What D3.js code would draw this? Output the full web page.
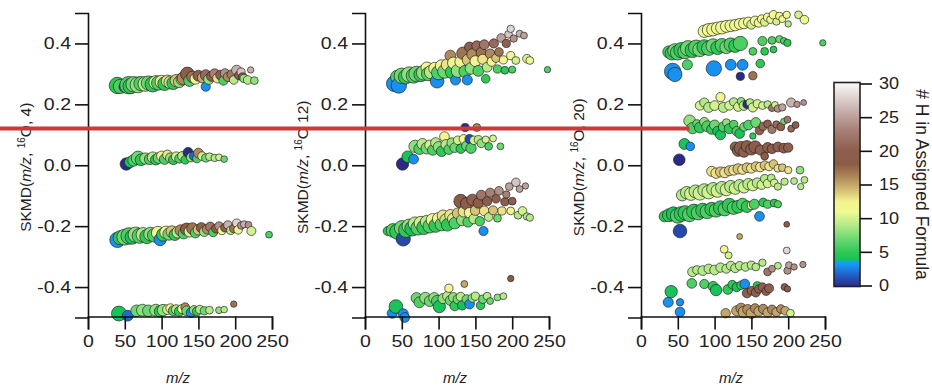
<!DOCTYPE html>
<html>
<head>
<meta charset="utf-8">
<script src="https://cdn.jsdelivr.net/npm/d3@7"></script>
<style>
  html, body { margin: 0; padding: 0; background: #fff; }
  svg { display: block; font-family: "Liberation Sans", Arial, Helvetica, sans-serif; }
</style>
</head>
<body>
<svg id="chart" width="932" height="388"></svg>
<script>
// Each ion: [m/z, SKMD, number of H in the assigned formula, relative abundance]
const ionsO4 = [
  [40,0.262,5,80],[44,0.259,6,60],[50,0.258,1,40],[55,0.263,6,90],[58,0.260,5,70],[62,0.266,7,70],
  [68,0.264,8,75],[72,0.268,6,60],[78,0.267,9,65],[82,0.270,7,60],[88,0.266,5,70],[92,0.272,10,55],
  [96,0.270,6,60],[100,0.274,12,50],[104,0.268,5,55],[108,0.276,13,45],[112,0.272,9,50],[116,0.270,5,50],
  [120,0.278,14,45],[124,0.274,8,40],[128,0.283,14,45],[130,0.286,16,50],[135,0.300,19,55],[138,0.278,6,40],
  [142,0.290,17,40],[146,0.284,12,35],[150,0.294,20,35],[156,0.288,15,35],[160,0.258,3,25],[160,0.296,21,35],
  [164,0.282,8,30],[168,0.292,18,30],[172,0.300,23,30],[176,0.286,13,28],[180,0.296,20,28],[184,0.278,6,25],
  [186,0.302,24,25],[190,0.290,16,25],[195,0.298,22,25],[198,0.280,9,22],[202,0.312,26,30],[205,0.295,19,22],
  [208,0.306,27,20],[210,0.290,18,20],[212,0.285,8,20],[217,0.280,9,22],[221,0.313,26,12],[226,0.278,8,18],

  [52,0.004,0,45],[57,0.010,4,35],[62,0.016,6,40],[68,0.024,7,55],[72,0.018,5,40],[78,0.022,8,38],
  [84,0.020,6,35],[88,0.026,9,35],[92,0.018,5,32],[96,0.024,7,35],[100,0.030,11,30],[104,0.020,6,32],
  [108,0.034,13,28],[112,0.024,8,30],[116,0.018,5,28],[120,0.028,10,28],[124,0.022,6,25],[128,0.030,9,25],
  [132,0.018,5,22],[136,0.042,0,30],[140,0.026,8,25],[144,0.030,2,25],[148,0.022,6,22],[150,0.040,16,28],
  [155,0.030,10,22],[160,0.024,7,20],[165,0.028,9,18],[172,0.024,9,16],[178,0.026,10,14],[185,0.020,7,13],

  [40,-0.245,3,70],[44,-0.238,5,60],[50,-0.236,7,75],[56,-0.232,6,80],[60,-0.236,4,60],[65,-0.228,8,70],
  [70,-0.232,6,65],[75,-0.228,9,60],[80,-0.234,5,60],[85,-0.226,8,55],[90,-0.230,6,55],[95,-0.222,11,50],
  [98,-0.244,3,45],[102,-0.228,5,50],[106,-0.220,12,45],[110,-0.226,7,45],[114,-0.218,14,40],[118,-0.228,5,40],
  [122,-0.220,9,40],[126,-0.214,16,38],[130,-0.224,6,35],[134,-0.210,18,45],[138,-0.218,10,35],[142,-0.208,17,40],
  [146,-0.222,6,30],[150,-0.212,14,32],[154,-0.205,20,30],[158,-0.218,8,28],[162,-0.210,16,28],[166,-0.202,22,26],
  [170,-0.220,6,24],[174,-0.208,18,24],[178,-0.200,24,22],[182,-0.214,12,22],[186,-0.205,20,22],[190,-0.196,26,20],
  [194,-0.214,9,20],[198,-0.208,17,20],[202,-0.190,28,20],[204,-0.212,12,22],[208,-0.198,24,16],[212,-0.194,26,15],
  [218,-0.196,24,14],[222,-0.216,10,24],[246,-0.228,6,14],

  [42,-0.487,4,65],[54,-0.494,2,35],[66,-0.478,7,40],[74,-0.476,8,42],[82,-0.478,7,40],[92,-0.476,8,42],
  [98,-0.480,5,40],[102,-0.476,8,40],[108,-0.474,10,28],[112,-0.470,12,25],[116,-0.478,6,30],[120,-0.474,9,28],
  [124,-0.480,5,28],[128,-0.472,11,25],[132,-0.466,16,22],[134,-0.478,7,28],[140,-0.484,3,28],[144,-0.476,8,25],
  [148,-0.480,5,24],[152,-0.474,9,22],[158,-0.478,7,20],[165,-0.476,9,18],[178,-0.476,8,14],[185,-0.474,9,13],
  [198,-0.456,17,12]
];

const ionsO12 = [
  [40,0.268,3,75],[46,0.262,3,70],[44,0.290,6,55],[50,0.294,7,70],[55,0.290,5,60],[60,0.298,8,70],
  [66,0.294,6,65],[70,0.300,7,70],[76,0.298,5,60],[80,0.304,8,65],[84,0.320,11,40],[86,0.300,6,55],
  [90,0.306,9,55],[95,0.318,12,45],[98,0.276,3,55],[100,0.304,6,60],[104,0.326,12,45],[108,0.308,7,55],
  [112,0.330,13,45],[116,0.360,16,35],[118,0.306,5,50],[120,0.336,11,40],[123,0.280,3,30],[126,0.310,8,50],
  [130,0.340,12,40],[133,0.368,17,45],[136,0.308,6,45],[139,0.280,3,30],[140,0.346,14,40],[142,0.388,20,30],
  [144,0.318,8,40],[146,0.364,16,38],[150,0.342,12,35],[152,0.392,21,30],[154,0.310,6,35],[158,0.370,17,32],
  [160,0.348,13,30],[162,0.396,22,28],[164,0.284,5,22],[166,0.322,9,28],[170,0.366,16,28],[172,0.340,12,25],
  [175,0.400,21,25],[178,0.352,14,22],[180,0.316,6,20],[182,0.372,17,22],[185,0.418,25,22],[188,0.346,12,20],
  [190,0.312,5,18],[192,0.400,20,20],[195,0.430,27,18],[198,0.360,12,20],[198,0.448,28,16],[200,0.314,6,15],
  [202,0.416,24,16],[205,0.344,10,18],[210,0.432,26,14],[216,0.426,25,14],[220,0.350,10,22],[224,0.344,11,18],
  [248,0.314,6,12],

  [51,0.004,0,45],[58,0.028,4,40],[66,0.020,3,28],[68,0.062,8,45],[74,0.054,6,38],[78,0.070,9,35],
  [84,0.056,7,40],[88,0.066,10,30],[92,0.050,6,32],[96,0.074,9,30],[100,0.060,8,35],[104,0.046,5,32],
  [108,0.094,12,28],[110,0.068,9,30],[114,0.052,6,30],[118,0.074,8,28],[122,0.058,7,28],[126,0.082,10,22],
  [130,0.054,5,25],[134,0.086,11,24],[136,0.124,0,20],[138,0.064,7,28],[142,0.086,1,25],[144,0.056,6,32],
  [148,0.082,10,22],[152,0.124,16,18],[154,0.084,9,20],[158,0.072,8,22],[164,0.084,10,16],[168,0.062,6,18],
  [174,0.088,10,14],[184,0.062,7,14],

  [31,-0.216,5,25],[38,-0.214,6,55],[44,-0.218,5,70],[50,-0.206,7,65],[52,-0.242,1,60],[56,-0.212,5,70],
  [60,-0.200,8,60],[64,-0.208,4,65],[68,-0.192,9,55],[72,-0.206,6,60],[76,-0.190,10,55],[80,-0.204,5,60],
  [84,-0.186,9,50],[88,-0.200,6,55],[92,-0.180,11,50],[96,-0.198,5,55],[100,-0.176,12,45],[104,-0.194,6,50],
  [106,-0.166,13,40],[110,-0.180,9,45],[112,-0.196,5,45],[116,-0.164,13,38],[120,-0.176,10,40],[122,-0.190,6,40],
  [126,-0.158,14,35],[130,-0.118,18,55],[132,-0.180,8,38],[134,-0.152,13,35],[138,-0.126,19,45],[140,-0.186,6,32],
  [142,-0.156,12,32],[146,-0.114,20,40],[148,-0.176,9,30],[150,-0.148,14,30],[154,-0.124,18,32],[156,-0.184,6,26],
  [158,-0.098,22,28],[161,-0.216,3,25],[162,-0.150,13,28],[166,-0.118,19,26],[168,-0.170,9,22],[170,-0.090,23,24],
  [174,-0.148,14,24],[178,-0.110,20,22],[180,-0.174,7,18],[182,-0.084,24,22],[186,-0.150,13,20],[190,-0.120,19,20],
  [192,-0.096,23,16],[196,-0.070,25,18],[198,-0.150,12,18],[200,-0.118,20,18],[205,-0.056,27,22],[208,-0.164,9,18],
  [210,-0.078,25,14],[214,-0.150,10,22],[218,-0.068,25,12],[220,-0.168,9,16],[224,-0.172,9,16],

  [37,-0.486,3,30],[42,-0.464,4,55],[52,-0.488,3,30],[54,-0.500,3,28],[70,-0.436,7,35],[74,-0.450,6,35],
  [82,-0.436,8,38],[88,-0.446,7,35],[94,-0.436,8,35],[98,-0.446,6,38],[101,-0.464,4,45],[106,-0.438,8,30],
  [112,-0.430,9,28],[114,-0.404,12,20],[116,-0.444,7,30],[120,-0.434,8,28],[122,-0.462,5,28],[126,-0.440,7,26],
  [130,-0.432,9,24],[132,-0.460,4,26],[135,-0.390,15,14],[138,-0.440,7,24],[142,-0.456,3,28],[146,-0.436,8,22],
  [150,-0.430,9,20],[157,-0.460,5,22],[160,-0.440,7,20],[166,-0.430,9,18],[170,-0.446,7,14],[180,-0.434,8,14],
  [188,-0.430,9,14],[198,-0.372,18,12]
];

const ionsO20 = [
  [86,0.440,11,45],[92,0.444,11,50],[98,0.446,12,50],[104,0.450,11,45],[110,0.452,12,48],[116,0.456,11,42],
  [122,0.458,12,40],[128,0.460,11,38],[134,0.464,12,35],[140,0.466,11,35],[146,0.470,12,30],[150,0.462,10,25],
  [155,0.474,11,28],[160,0.468,12,24],[164,0.480,11,22],[168,0.470,10,20],[172,0.486,12,20],[176,0.478,11,18],
  [180,0.494,11,22],[184,0.472,10,16],[188,0.490,12,18],[192,0.480,11,15],[198,0.494,11,16],[200,0.464,9,12],
  [214,0.494,10,18],[222,0.478,11,22],

  [38,0.372,6,45],[42,0.368,5,55],[46,0.376,7,60],[50,0.370,6,65],[55,0.378,5,70],[60,0.374,6,65],
  [64,0.384,7,70],[70,0.378,5,65],[75,0.386,6,70],[80,0.380,7,60],[86,0.388,5,65],[92,0.384,6,60],
  [98,0.392,7,60],[104,0.386,5,55],[110,0.394,6,55],[116,0.388,7,50],[122,0.396,6,55],[128,0.392,5,50],
  [135,0.400,6,60],[63,0.330,6,30],[152,0.374,6,18],[165,0.408,6,25],[168,0.374,5,18],[178,0.410,6,18],
  [180,0.380,5,14],[188,0.414,7,16],[194,0.408,6,14],[199,0.402,5,16],[247,0.402,6,12],

  [43,0.308,3,80],[46,0.298,3,60],[99,0.318,3,70],[122,0.330,3,35],[138,0.330,3,35],[162,0.334,5,22],
  [135,0.292,0,20],[152,0.294,17,20],

  [80,0.196,10,25],[86,0.206,9,25],[92,0.190,9,30],[100,0.196,10,28],[108,0.224,12,25],[112,0.190,9,30],
  [120,0.196,10,25],[126,0.208,9,20],[132,0.192,10,25],[136,0.210,8,18],[140,0.196,9,28],[144,0.200,0,20],
  [148,0.206,9,18],[152,0.190,10,25],[158,0.202,10,20],[165,0.196,10,18],[172,0.200,9,16],[178,0.188,22,15],
  [182,0.198,10,14],[186,0.186,24,16],[192,0.190,25,16],[204,0.206,26,25],[212,0.200,24,12],[221,0.206,24,10],

  [66,0.146,8,40],[70,0.122,6,38],[76,0.136,7,20],[80,0.124,5,35],[86,0.142,8,25],[90,0.128,6,35],
  [96,0.118,5,30],[100,0.132,7,30],[104,0.112,4,28],[108,0.100,4,30],[112,0.126,6,30],[116,0.140,8,18],
  [120,0.120,5,30],[126,0.134,6,20],[130,0.112,6,26],[134,0.104,4,28],[140,0.126,7,22],[146,0.132,6,28],
  [152,0.096,5,12],[156,0.140,7,30],[161,0.114,20,22],[166,0.128,21,20],[172,0.136,20,18],[178,0.118,22,20],
  [184,0.134,21,16],[190,0.126,20,18],[194,0.144,7,12],[199,0.150,22,14],[204,0.120,21,14],[210,0.132,20,14],

  [59,0.070,4,35],[67,0.062,3,22],[52,0.018,0,40],

  [128,0.060,19,30],[132,0.048,20,40],[136,0.056,19,55],[140,0.044,20,35],[144,0.062,19,40],[150,0.052,20,38],
  [155,0.060,19,45],[162,0.050,20,30],[168,0.030,19,18],[172,0.058,20,30],[178,0.054,19,28],[186,0.060,20,28],
  [194,0.056,19,28],[200,0.058,20,26],

  [96,-0.020,13,30],[102,-0.026,13,32],[108,-0.022,14,30],[114,-0.024,13,32],[120,-0.018,14,30],[126,-0.016,13,30],
  [132,-0.012,14,32],[138,-0.014,13,28],[144,-0.008,14,28],[150,-0.010,13,28],[156,-0.004,14,26],[162,-0.006,13,26],
  [168,0.000,14,24],[174,-0.004,13,22],[180,0.004,14,22],[186,-0.010,13,18],[192,-0.008,14,18],[200,-0.016,13,16],
  [216,-0.016,8,18],

  [56,-0.098,9,40],[62,-0.090,9,45],[68,-0.094,10,50],[74,-0.086,9,50],[80,-0.092,10,55],[86,-0.082,9,50],
  [92,-0.088,10,55],[98,-0.078,9,50],[104,-0.084,10,50],[110,-0.074,9,48],[116,-0.080,10,45],[122,-0.070,9,45],
  [128,-0.076,10,42],[134,-0.066,9,40],[140,-0.072,10,40],[146,-0.062,9,38],[152,-0.066,10,36],[158,-0.058,9,30],
  [164,-0.064,10,26],[168,-0.044,9,20],[172,-0.060,10,22],[177,-0.042,9,18],[181,-0.058,10,18],[186,-0.070,9,16],
  [195,-0.054,9,16],[208,-0.052,9,14],[217,-0.070,9,12],[222,-0.048,9,14],

  [32,-0.168,5,35],[38,-0.164,5,50],[44,-0.160,4,60],[50,-0.166,6,65],[55,-0.160,5,65],[60,-0.156,5,60],
  [66,-0.162,6,60],[72,-0.152,5,65],[78,-0.156,6,60],[84,-0.148,5,60],[90,-0.152,6,60],[96,-0.144,5,55],
  [102,-0.148,6,55],[108,-0.140,5,60],[114,-0.144,6,55],[120,-0.132,5,60],[126,-0.140,6,50],[132,-0.136,5,48],
  [138,-0.128,6,42],[144,-0.136,5,40],[150,-0.132,12,20],[154,-0.128,6,30],[161,-0.168,3,28],[166,-0.122,5,22],
  [172,-0.128,6,20],[181,-0.124,5,18],[186,-0.128,6,16],

  [53,-0.216,1,55],[198,-0.194,18,10],[134,-0.234,15,10],
  [113,-0.276,12,18],[119,-0.296,10,15],[198,-0.280,28,14],

  [70,-0.350,9,28],[76,-0.344,9,22],[84,-0.346,9,28],[92,-0.340,9,26],[100,-0.344,9,28],[108,-0.336,9,26],
  [116,-0.340,9,24],[122,-0.330,9,24],[128,-0.338,9,24],[134,-0.330,9,22],[142,-0.334,9,22],[150,-0.328,9,20],
  [156,-0.334,9,18],[165,-0.320,9,16],[172,-0.350,22,18],[178,-0.340,24,14],[186,-0.330,9,14],[199,-0.346,24,16],
  [201,-0.328,25,14],[208,-0.334,24,12],[220,-0.326,24,12],

  [69,-0.388,6,28],[86,-0.390,6,25],[98,-0.398,5,30],[102,-0.410,4,38],[118,-0.408,5,28],[124,-0.392,5,22],
  [130,-0.400,4,25],[136,-0.394,5,22],[141,-0.390,3,28],[158,-0.396,5,20],

  [144,-0.420,20,26],[150,-0.412,19,22],[156,-0.418,20,24],[160,-0.406,19,20],[165,-0.400,20,22],[170,-0.414,19,20],
  [174,-0.404,20,24],[195,-0.400,20,14],[199,-0.406,19,12],

  [41,-0.415,4,45],[37,-0.450,3,30],[53,-0.450,3,16],[53,-0.482,3,28],

  [115,-0.486,15,26],[130,-0.478,15,30],[136,-0.470,16,32],[140,-0.482,15,40],[145,-0.474,16,30],[150,-0.486,15,32],
  [155,-0.470,16,26],[160,-0.480,15,28],[166,-0.472,16,26],[172,-0.484,15,26],[178,-0.474,16,24],[184,-0.482,15,24],
  [190,-0.472,16,22],[196,-0.478,15,22],[203,-0.486,10,18]
];

const panelIons = [ionsO4, ionsO12, ionsO20];
const panelDivisorLabels = [", 4)", " 12)", ", 20)"];
const mzTicks = [0, 50, 100, 150, 200, 250];
const skmdTicks = [-0.4, -0.2, 0.0, 0.2, 0.4];
const hTicks = [0, 5, 10, 15, 20, 25, 30];

// Colour table for the number of hydrogens
const hStops  = [0, 1.5, 3.0, 3.6, 3.9, 5, 7, 9, 11, 12.5, 14, 16, 18, 20, 23, 26, 30];
const hColors = ["#2b2a86", "#2358c0", "#1890ef", "#14a2f2", "#14c45a", "#2ec854", "#6cd872",
                 "#b4ea88", "#eefa92", "#f6f290", "#d8c278", "#b08a5a", "#8c5c46", "#8e5e4e",
                 "#a88076", "#c8b2ae", "#fafafa"];

// Reference level marked across the panels
const guideLevel = 0.121;
const guideEndMz = 66;

const svg = d3.select("#chart");

const color = d3.scaleLinear().domain(hStops).range(hColors).interpolate(d3.interpolateRgb).clamp(true);
const radius = d3.scaleSqrt().domain([0, 100]).range([0, 9.2]);

const panelLeft = [88, 365, 641];
const panelWidth = 184;
const plotTop = 13, plotBottom = 317.5;

const y = d3.scaleLinear().domain([-0.5, 0.5]).range([plotBottom, plotTop]);

// widen tick numerals a little, as in the original figure style
function widen(sel, k) {
  sel.each(function () {
    const w = this.getComputedTextLength();
    d3.select(this).attr("textLength", w * k).attr("lengthAdjust", "spacingAndGlyphs");
  });
}

const xScales = [];

panelLeft.forEach((left, i) => {
  const x = d3.scaleLinear().domain([0, 250]).range([left, left + panelWidth]);
  xScales.push(x);
  const g = svg.append("g");

  // points, lower m/z first so later ions sit on top
  const pts = panelIons[i].slice().sort((a, b) => a[0] - b[0]);
  g.append("g").selectAll("circle").data(pts).join("circle")
    .attr("cx", d => x(d[0]))
    .attr("cy", d => y(d[1]))
    .attr("r", d => radius(d[3]))
    .attr("fill", d => color(d[2]))
    .attr("stroke", "#222")
    .attr("stroke-opacity", 0.85)
    .attr("stroke-width", 0.8);

  // axes
  const ya = g.append("g").attr("transform", `translate(${left},0)`)
    .call(d3.axisLeft(y).tickValues(skmdTicks).tickSize(13).tickPadding(4).tickFormat(d => d.toFixed(1)));
  const xa = g.append("g").attr("transform", `translate(0,${plotBottom - 1})`)
    .call(d3.axisBottom(x).tickValues(mzTicks).tickSize(13).tickPadding(6).tickFormat(d3.format("d")));
  [ya, xa].forEach(a => {
    a.select(".domain").attr("stroke", "#111").attr("stroke-width", 1.6);
    a.selectAll(".tick line").attr("stroke", "#111").attr("stroke-width", 1.6);
    a.selectAll(".tick text").attr("fill", "#222").style("font-size", "16px").call(widen, 1.22);
  });

  // axis titles
  g.append("text")
    .attr("x", left + panelWidth / 2 - 2).attr("y", 383)
    .attr("text-anchor", "middle")
    .style("font-size", "15px").style("font-style", "italic").attr("fill", "#222")
    .text("m/z");

  const yt = g.append("text")
    .attr("transform", `translate(${left - 57},${(plotTop + plotBottom) / 2 + 2}) rotate(-90)`)
    .attr("text-anchor", "middle")
    .style("font-size", "15.5px").attr("fill", "#222");
  yt.append("tspan").text("SKMD(");
  yt.append("tspan").style("font-style", "italic").text("m/z");
  yt.append("tspan").text(", ");
  yt.append("tspan").style("font-size", "10px").attr("dy", -6).text("16");
  yt.append("tspan").attr("dy", 6).text("O" + panelDivisorLabels[i]);
});

// colour bar
const cbX = 834, cbW = 26, cbTop = 83.5, cbBottom = 285.5;
const cbScale = d3.scaleLinear().domain([0, 30]).range([cbBottom, cbTop]);
const defs = svg.append("defs");
const grad = defs.append("linearGradient").attr("id", "hgrad")
  .attr("x1", 0).attr("y1", 1).attr("x2", 0).attr("y2", 0);
hStops.forEach((s, k) => {
  grad.append("stop").attr("offset", s / 30).attr("stop-color", hColors[k]);
});
svg.append("rect")
  .attr("x", cbX).attr("y", cbTop - 1).attr("width", cbW).attr("height", cbBottom - cbTop + 2)
  .attr("fill", "url(#hgrad)").attr("stroke", "#222").attr("stroke-width", 1.6);
const ca = svg.append("g").attr("transform", `translate(${cbX + cbW},0)`)
  .call(d3.axisRight(cbScale).tickValues(hTicks).tickSize(12).tickPadding(7));
ca.select(".domain").remove();
ca.selectAll(".tick line").attr("stroke", "#111").attr("stroke-width", 1.6);
ca.selectAll(".tick text").attr("fill", "#222").style("font-size", "17px").call(widen, 1.06);

svg.append("text")
  .attr("transform", `translate(916,${(cbTop + cbBottom) / 2}) rotate(90)`)
  .attr("text-anchor", "middle")
  .style("font-size", "17.5px").attr("fill", "#222")
  .text("# H in Assigned Formula");

// horizontal guide at the marked SKMD level
svg.append("line")
  .attr("x1", 0).attr("x2", xScales[2](guideEndMz))
  .attr("y1", y(guideLevel)).attr("y2", y(guideLevel))
  .attr("stroke", "#d0363a").attr("stroke-width", 4);
</script>
</body>
</html>
